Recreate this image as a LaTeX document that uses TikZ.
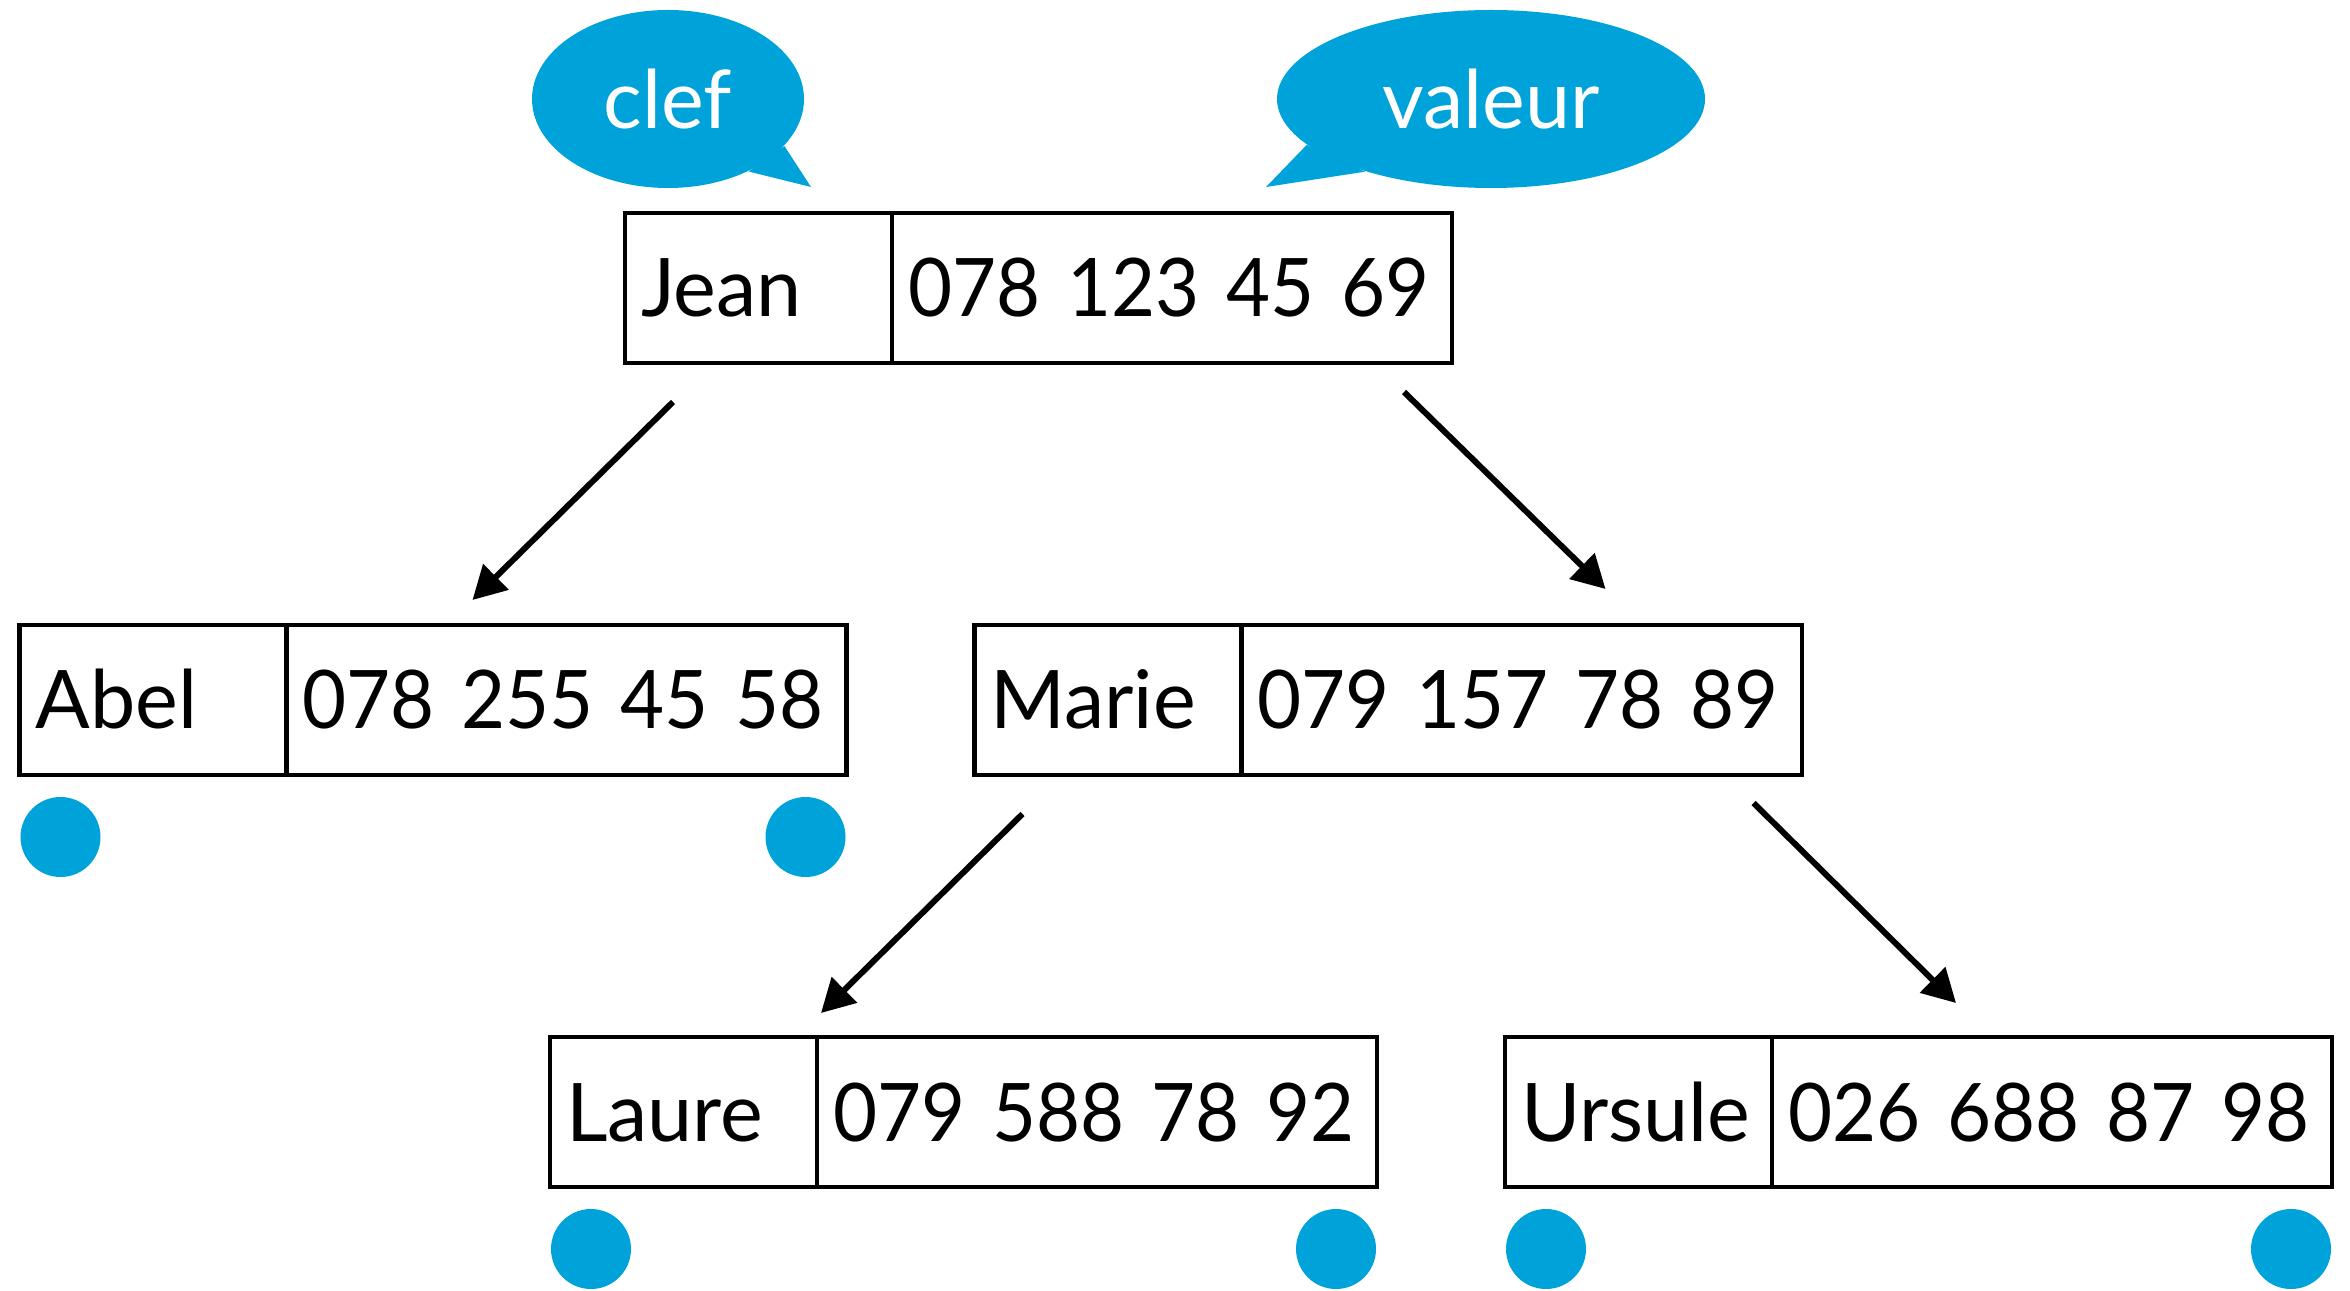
\documentclass[tikz,border=0pt]{standalone}
\usepackage{fontspec}
\setmainfont{Lato}
\newfontfamily\chiffres{Lato}[FakeStretch=0.94]
\usetikzlibrary{positioning, shapes.geometric, arrows.meta}
\definecolor{bleu}{RGB}{0,163,217}

\begin{document}
\begin{tikzpicture}[
    cle/.style={draw, line width=1.15pt, outer sep=0pt, minimum height=1.5cm, inner xsep=0.16cm, text width=2.35cm, align=left, text height=0.68cm, text depth=0.1cm, font=\fontsize{23}{28}\selectfont},
    tel/.style={cle, text width=5.28cm, font=\fontsize{23}{28}\selectfont\chiffres},
    bulle/.style={ellipse, fill=bleu, text=white, inner sep=0pt, minimum height=1.78cm, font=\fontsize{23}{28}\selectfont},
    rond/.style={circle, fill=bleu, minimum size=0.8cm, inner sep=0pt},
    fleche/.style={-{Triangle[length=0.33cm, width=0.35cm]}, line width=1.7pt}
]
    \useasboundingbox (0,0) rectangle (23.5,-12.91);

    \node[bulle, minimum width=2.72cm] (clef) at (6.68,-0.99) {clef};
    \node[bulle, minimum width=4.28cm] (valeur) at (14.91,-0.99) {valeur};
    \coordinate (clef-pointe) at (8.11,-1.87);
    \coordinate (valeur-pointe) at (12.66,-1.87);
    \fill[bleu] (clef.-22) -- (clef-pointe) -- (clef.-42) -- cycle;
    \fill[bleu] (valeur.-166) -- (valeur-pointe) -- (valeur.-150) -- cycle;

    \node[cle] (jean) at (7.585,-2.88) {Jean};
    \node[tel, right=0pt of jean] (jean-tel) {\mbox{078 123 45 69}};
    \node[cle] (abel) at (1.53,-7.0) {Abel};
    \node[tel, right=0pt of abel] (abel-tel) {\mbox{078 255 45 58}};
    \node[cle] (marie) at (11.08,-7.0) {Marie};
    \node[tel, right=0pt of marie] (marie-tel) {\mbox{079 157 78 89}};
    \node[cle] (laure) at (6.835,-11.12) {Laure};
    \node[tel, right=0pt of laure] (laure-tel) {\mbox{079 588 78 92}};
    \node[cle] (ursule) at (16.385,-11.12) {Ursule};
    \node[tel, right=0pt of ursule] (ursule-tel) {\mbox{026 688 87 98}};

    \node[rond] (abel-g) at ([shift={(0.41,-0.62)}]abel.south west) {};
    \node[rond] (abel-d) at ([shift={(-0.41,-0.62)}]abel-tel.south east) {};
    \node[rond] (laure-g) at ([shift={(0.41,-0.62)}]laure.south west) {};
    \node[rond] (laure-d) at ([shift={(-0.41,-0.62)}]laure-tel.south east) {};
    \node[rond] (ursule-g) at ([shift={(0.41,-0.62)}]ursule.south west) {};
    \node[rond] (ursule-d) at ([shift={(-0.41,-0.62)}]ursule-tel.south east) {};

    \draw[fleche] ([shift={(0.48,-0.39)}]jean.south west) -- ([shift={(4.53,0.25)}]abel.north west);
    \draw[fleche] ([shift={(-0.48,-0.29)}]jean-tel.south east) -- ([shift={(6.31,0.36)}]marie.north west);
    \draw[fleche] ([shift={(0.48,-0.39)}]marie.south west) -- ([shift={(2.71,0.24)}]laure.north west);
    \draw[fleche] ([shift={(-0.48,-0.28)}]marie-tel.south east) -- ([shift={(4.51,0.34)}]ursule.north west);
\end{tikzpicture}
\end{document}
